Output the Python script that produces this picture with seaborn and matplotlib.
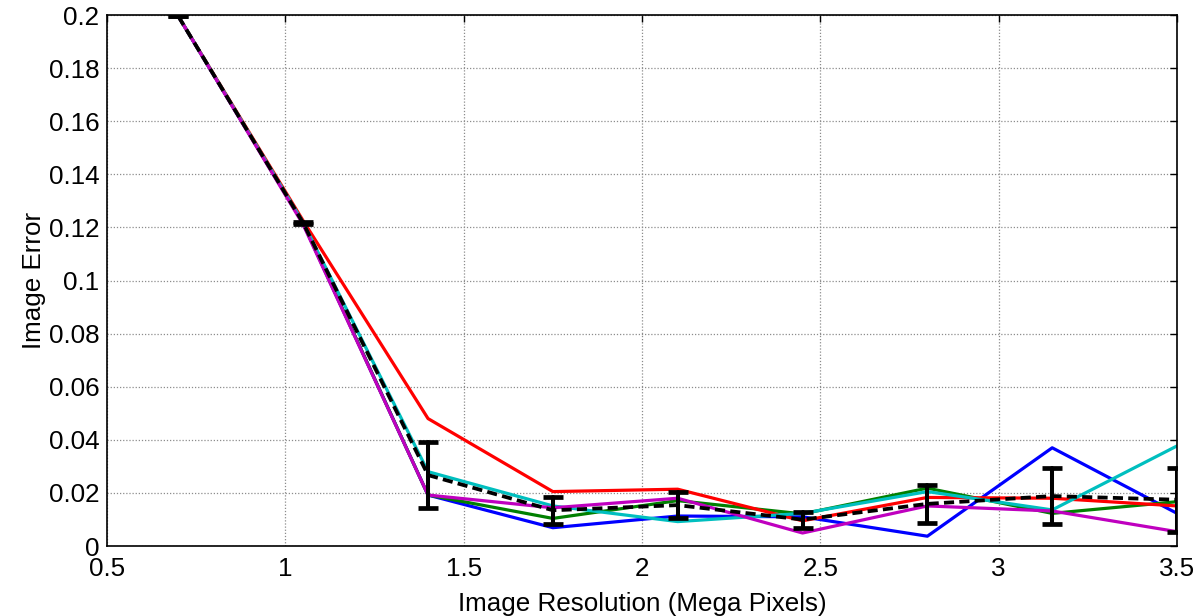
import numpy as np
import pandas as pd
import matplotlib
matplotlib.use("Agg")
import matplotlib.pyplot as plt
import seaborn as sns
from matplotlib.ticker import FuncFormatter

# Image resolution (mega pixels) at which each run was evaluated
resolution = [0.7, 1.05, 1.4, 1.75, 2.1, 2.45, 2.8, 3.15, 3.5]

# Image error for each run
run_blue = [0.1995, 0.1215, 0.0192, 0.0069, 0.0113, 0.0110, 0.0037, 0.0370, 0.0123]
run_green = [0.1995, 0.1215, 0.0192, 0.0104, 0.0171, 0.0121, 0.0218, 0.0123, 0.0167]
run_red = [0.1995, 0.1225, 0.0480, 0.0205, 0.0214, 0.0095, 0.0183, 0.0180, 0.0151]
run_cyan = [0.1995, 0.1218, 0.0280, 0.0151, 0.0092, 0.0123, 0.0205, 0.0136, 0.0377]
run_magenta = [0.1995, 0.1210, 0.0192, 0.0144, 0.0180, 0.0049, 0.0151, 0.0132, 0.0054]

runs = {
    "blue": run_blue,
    "green": run_green,
    "red": run_red,
    "cyan": run_cyan,
    "magenta": run_magenta,
}
palette = {
    "blue": (0.0, 0.0, 1.0),
    "green": (0.0, 0.5, 0.0),
    "red": (1.0, 0.0, 0.0),
    "cyan": (0.0, 0.75, 0.75),
    "magenta": (0.75, 0.0, 0.75),
}

long = pd.DataFrame(
    [(name, x, y) for name, vals in runs.items() for x, y in zip(resolution, vals)],
    columns=["run", "resolution", "error"],
)

sns.set_theme(style="white")
plt.rcParams["font.family"] = ["Liberation Sans", "DejaVu Sans"]

fig = plt.figure(figsize=(12.04, 6.16), dpi=100)
ax = fig.add_axes([0.0889, 0.1136, 0.9776 - 0.0889, 0.9756 - 0.1136])

# individual runs
for name in runs:
    sns.lineplot(
        data=long[long["run"] == name], x="resolution", y="error",
        color=palette[name], linewidth=2.3, ax=ax, legend=False,
        errorbar=None,
    )

# mean of all runs with +/- one standard deviation
sns.lineplot(
    data=long, x="resolution", y="error", estimator="mean",
    errorbar="sd", err_style="bars", color="black", linewidth=2.7,
    linestyle=(0, (2.7, 1.4)), ax=ax, legend=False,
    err_kws=dict(capsize=7.5, elinewidth=2.9, capthick=3.4, zorder=5),
    zorder=6,
)

ax.set_xlim(0.5, 3.5)
ax.set_ylim(0, 0.2)
ax.set_xticks(np.arange(0.5, 3.51, 0.5))
ax.set_yticks(np.arange(0, 0.201, 0.02))
ax.xaxis.set_major_formatter(FuncFormatter(lambda v, p: f"{v:g}"))
ax.yaxis.set_major_formatter(FuncFormatter(lambda v, p: f"{round(v, 3):g}"))

ax.grid(True, linestyle=(0, (1, 1.5)), color="#8c8c8c", linewidth=0.9)
ax.set_axisbelow(True)
for side in ax.spines.values():
    side.set_visible(True)
    side.set_color("black")
    side.set_linewidth(1.2)

ax.tick_params(axis="both", which="major", direction="in", length=5,
               width=1.0, color="black", labelsize=18.7, labelcolor="black",
               top=True, right=True)
ax.tick_params(axis="x", pad=8)
ax.tick_params(axis="y", pad=5.5)
ax.set_xlabel("Image Resolution (Mega Pixels)", fontsize=18.7, color="black", labelpad=7.5)
ax.set_ylabel("Image Error", fontsize=18.7, color="black", labelpad=2)

fig.savefig("out.png", dpi=100, facecolor="white")
